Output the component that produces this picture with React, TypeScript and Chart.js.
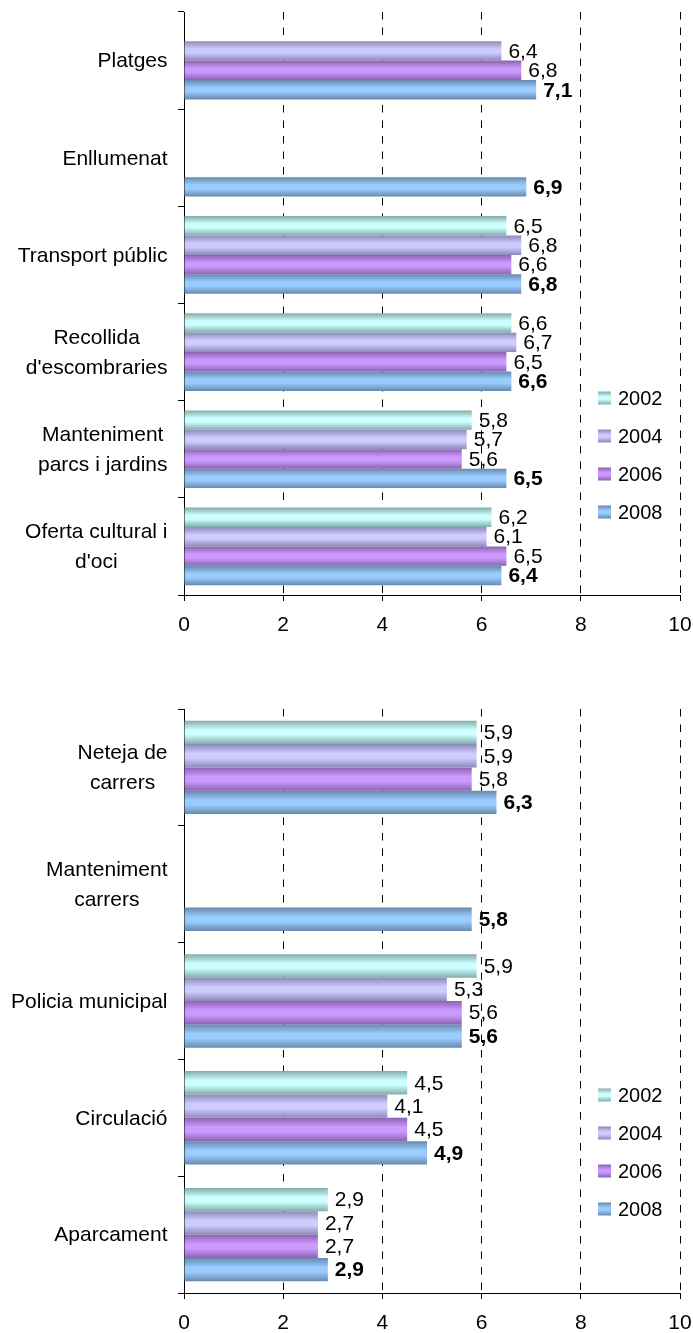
import React, { useEffect, useRef } from 'react';
import { Chart, registerables } from 'chart.js';

Chart.register(...registerables);

const FONT = "'Liberation Sans', Arial, sans-serif";

const years = ['2002', '2004', '2006', '2008'];

const topCategories = [
  ['Platges'],
  ['Enllumenat'],
  ['Transport públic'],
  ['Recollida', "d'escombraries"],
  ['Manteniment', 'parcs i jardins'],
  ['Oferta cultural i', "d'oci"],
];
const top2002 = [null, null, 6.5, 6.6, 5.8, 6.2];
const top2004 = [6.4, null, 6.8, 6.7, 5.7, 6.1];
const top2006 = [6.8, null, 6.6, 6.5, 5.6, 6.5];
const top2008 = [7.1, 6.9, 6.8, 6.6, 6.5, 6.4];

const bottomCategories = [
  ['Neteja de', 'carrers'],
  ['Manteniment', 'carrers'],
  ['Policia municipal'],
  ['Circulació'],
  ['Aparcament'],
];
const bottom2002 = [5.9, null, 5.9, 4.5, 2.9];
const bottom2004 = [5.9, null, 5.3, 4.1, 2.7];
const bottom2006 = [5.8, null, 5.6, 4.5, 2.7];
const bottom2008 = [6.3, 5.8, 5.6, 4.9, 2.9];

const xTicks = [0, 2, 4, 6, 8, 10];

const edgeColors = ['#83aca9', '#8f88b8', '#8b63b0', '#6789ac'];
const midColors = ['#ccffff', '#ccccff', '#cc99ff', '#99ccff'];

function makeGradient(ctx: CanvasRenderingContext2D, y0: number, y1: number, i: number) {
  const g = ctx.createLinearGradient(0, y0, 0, y1);
  g.addColorStop(0, edgeColors[i]);
  g.addColorStop(0.4, midColors[i]);
  g.addColorStop(0.6, midColors[i]);
  g.addColorStop(1, edgeColors[i]);
  return g;
}

const fmt = (v: number) => v.toFixed(1).replace('.', ',');

const gradientPlugin = {
  id: 'gradBars',
  beforeDatasetsDraw(chart: any) {
    const ctx = chart.ctx;
    chart.data.datasets.forEach((ds: any, di: number) => {
      const meta = chart.getDatasetMeta(di);
      meta.data.forEach((el: any, i: number) => {
        if (ds.data[i] == null) return;
        const { y, height } = el.getProps(['y', 'height'], true);
        if (!isFinite(y) || !height) return;
        el.options.backgroundColor = makeGradient(ctx, y - height / 2, y + height / 2, di);
      });
    });
  },
};

const valueLabelsPlugin = {
  id: 'valueLabels',
  afterDatasetsDraw(chart: any) {
    const ctx = chart.ctx;
    ctx.save();
    ctx.fillStyle = '#000';
    ctx.textAlign = 'left';
    ctx.textBaseline = 'middle';
    chart.data.datasets.forEach((ds: any, di: number) => {
      const meta = chart.getDatasetMeta(di);
      ctx.font = `${di === 3 ? 'bold ' : ''}21px ${FONT}`;
      meta.data.forEach((el: any, i: number) => {
        const v = ds.data[i];
        if (v == null) return;
        const { x, y } = el.getProps(['x', 'y'], true);
        ctx.fillText(fmt(v), x + 7, y + 1);
      });
    });
    ctx.restore();
  },
};

const categoryLabelsPlugin = {
  id: 'categoryLabels',
  afterDraw(chart: any) {
    const ctx = chart.ctx;
    const yScale = chart.scales.y;
    const right = 167.5;
    const lh = 30;
    ctx.save();
    ctx.fillStyle = '#000';
    ctx.font = `21px ${FONT}`;
    ctx.textAlign = 'center';
    ctx.textBaseline = 'middle';
    (chart.data.labels as string[][]).forEach((lines, i) => {
      const cy = yScale.getPixelForValue(i);
      const w = Math.max(...lines.map((l) => ctx.measureText(l).width));
      const cx = right - w / 2;
      lines.forEach((l, j) => {
        ctx.fillText(l, cx, cy + (j - (lines.length - 1) / 2) * lh + 1);
      });
    });
    ctx.restore();
  },
};

const legendPlugin = {
  id: 'customLegend',
  afterDraw(chart: any) {
    const ctx = chart.ctx;
    const top = chart.chartArea.top + 386;
    ctx.save();
    chart.data.datasets.forEach((ds: any, i: number) => {
      const y = top + i * 38;
      ctx.fillStyle = makeGradient(ctx, y - 6.5, y + 6.5, i);
      ctx.fillRect(598, y - 6.5, 13, 13);
      ctx.fillStyle = '#000';
      ctx.font = `20px ${FONT}`;
      ctx.textAlign = 'left';
      ctx.textBaseline = 'middle';
      ctx.fillText(ds.label, 618, y + 1);
    });
    ctx.restore();
  },
};

function makeConfig(labels: string[][], series: (number | null)[][], padTop: number, xHeight: number): any {
  return {
    type: 'bar',
    data: {
      labels,
      datasets: years.map((yr, i) => ({
        label: yr,
        data: series[i],
        backgroundColor: () => midColors[i],
        borderWidth: 0,
        categoryPercentage: 0.8,
        barPercentage: 1,
      })),
    },
    options: {
      indexAxis: 'y',
      responsive: false,
      animation: false,
      events: [],
      layout: { padding: { top: padTop, right: 13, left: 0, bottom: 0 } },
      plugins: { legend: { display: false }, tooltip: { enabled: false } },
      scales: {
        x: {
          type: 'linear',
          min: 0,
          max: 10,
          afterBuildTicks: (s: any) => {
            s.ticks = xTicks.map((v) => ({ value: v }));
          },
          ticks: {
            padding: 12,
            color: '#000',
            font: { family: FONT, size: 21 },
            callback: (v: any) => String(v),
          },
          grid: {
            color: '#000',
            lineWidth: 1,
            tickLength: 6,
            tickColor: '#000',
            tickBorderDash: [],
          },
          border: { display: true, color: '#000', width: 1, dash: [7.5, 8] },
          afterFit: (s: any) => {
            s.height = xHeight;
            s.paddingLeft = 0;
            s.paddingRight = 0;
          },
        },
        y: {
          type: 'category',
          offset: true,
          grid: {
            drawOnChartArea: false,
            offset: true,
            tickLength: 6,
            color: '#000',
            tickColor: '#000',
          },
          ticks: { display: false },
          border: { display: true, color: '#000', width: 1 },
          afterFit: (s: any) => {
            s.width = 184;
            s.paddingTop = 0;
            s.paddingBottom = 0;
          },
        },
      },
    },
    plugins: [gradientPlugin, valueLabelsPlugin, categoryLabelsPlugin, legendPlugin],
  };
}

function BarChart(props: {
  labels: string[][];
  series: (number | null)[][];
  padTop: number;
  xHeight: number;
  height: number;
  top: number;
}) {
  const ref = useRef<HTMLCanvasElement>(null);
  useEffect(() => {
    const chart = new Chart(ref.current as HTMLCanvasElement, makeConfig(props.labels, props.series, props.padTop, props.xHeight));
    return () => chart.destroy();
  }, []);
  return (
    <canvas
      ref={ref}
      width={693}
      height={props.height}
      style={{ position: 'absolute', left: 0, top: props.top, width: 693, height: props.height, display: 'block' }}
    />
  );
}

export default function App() {
  return (
    <div style={{ position: 'absolute', left: 0, top: 0, width: 693, height: 1333, background: '#fff' }}>
      <BarChart
        labels={topCategories}
        series={[top2002, top2004, top2006, top2008]}
        padTop={12}
        xHeight={65}
        height={660}
        top={0}
      />
      <BarChart
        labels={bottomCategories}
        series={[bottom2002, bottom2004, bottom2006, bottom2008]}
        padTop={49}
        xHeight={40}
        height={673}
        top={660}
      />
    </div>
  );
}
